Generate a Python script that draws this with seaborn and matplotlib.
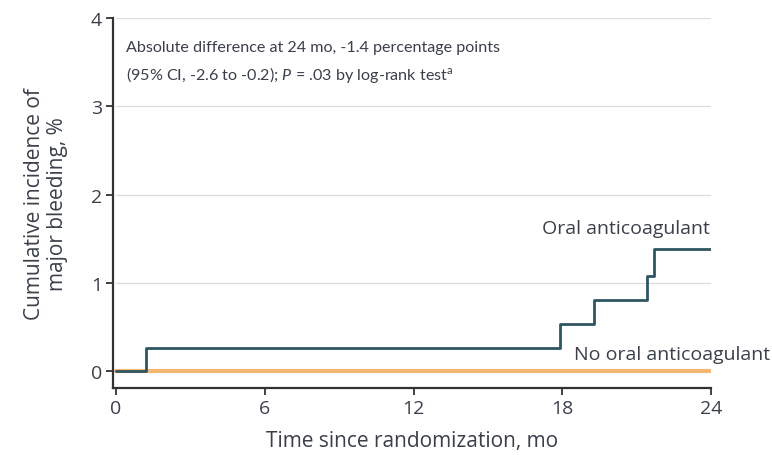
import matplotlib
matplotlib.use("Agg")
import matplotlib.pyplot as plt
import seaborn as sns
import pandas as pd

# Cumulative incidence of major bleeding (%), step times in months
oac_months = [0, 1.2, 17.9, 19.3, 21.4, 21.7, 24]
oac_incidence = [0, 0.26, 0.53, 0.81, 1.08, 1.38, 1.38]
no_oac_months = [0, 24]
no_oac_incidence = [0, 0]

x_ticks = [0, 6, 12, 18, 24]
y_ticks = [0, 1, 2, 3, 4]

sns.set_theme(style="white")
plt.rcParams["font.family"] = ["Open Sans", "DejaVu Sans"]
plt.rcParams["mathtext.fontset"] = "custom"
plt.rcParams["mathtext.rm"] = "Lato"
plt.rcParams["mathtext.it"] = "Lato:italic"
note_font = ["Lato", "DejaVu Sans"]

text_color = "#3a3f4a"
oac_color = "#2f5560"
no_oac_color = "#f3b673"

df = pd.concat([
    pd.DataFrame({"month": oac_months, "inc": oac_incidence, "group": "Oral anticoagulant"}),
    pd.DataFrame({"month": no_oac_months, "inc": no_oac_incidence, "group": "No oral anticoagulant"}),
])

fig = plt.figure(figsize=(7.72, 4.56), dpi=100)
ax = fig.add_axes([0.1464, 0.147, 0.7746, 0.811])

for y in y_ticks[1:]:
    ax.axhline(y, xmin=0.005, xmax=1, color="#dcdcdc", lw=0.9, zorder=0)

sns.lineplot(data=df[df.group == "No oral anticoagulant"], x="month", y="inc",
             color=no_oac_color, lw=3, ax=ax, drawstyle="steps-post", zorder=2)
sns.lineplot(data=df[df.group == "Oral anticoagulant"], x="month", y="inc",
             color=oac_color, lw=2, ax=ax, drawstyle="steps-post", zorder=3)

ax.set_xlim(-0.12, 24)
ax.set_ylim(-0.19, 4)
ax.set_xticks(x_ticks)
ax.set_yticks(y_ticks)
ax.tick_params(axis="both", direction="out", length=5, width=1.3, color="#333333",
               labelsize=14, labelcolor=text_color, bottom=True, left=True, pad=3)

for side in ("top", "right"):
    ax.spines[side].set_visible(False)
for side in ("left", "bottom"):
    ax.spines[side].set_color("#333333")
    ax.spines[side].set_linewidth(1.6)
ax.spines["bottom"].set_bounds(-0.12, 24)
ax.spines["left"].set_bounds(-0.19, 4)

ax.set_xlabel("Time since randomization, mo", fontsize=15, color=text_color, labelpad=9)
ax.set_ylabel("Cumulative incidence of\nmajor bleeding, %", fontsize=15,
              color=text_color, labelpad=16, linespacing=1.15)

ax.text(0.4, 3.67, "Absolute difference at 24 mo, -1.4 percentage points",
        fontsize=11.6, color=text_color, va="center", ha="left", family=note_font)
ax.text(0.4, 3.37, "(95% CI, -2.6 to -0.2); $\\it{P}$ = .03 by log-rank test$^{\\mathrm{a}}$",
        fontsize=11.6, color=text_color, va="center", ha="left", family=note_font)

ax.text(23.95, 1.62, "Oral anticoagulant", fontsize=14, color=text_color,
        ha="right", va="center")
ax.text(26.4, 0.19, "No oral anticoagulant", fontsize=14, color=text_color,
        ha="right", va="center", clip_on=False)

fig.savefig("out.png", dpi=100)
